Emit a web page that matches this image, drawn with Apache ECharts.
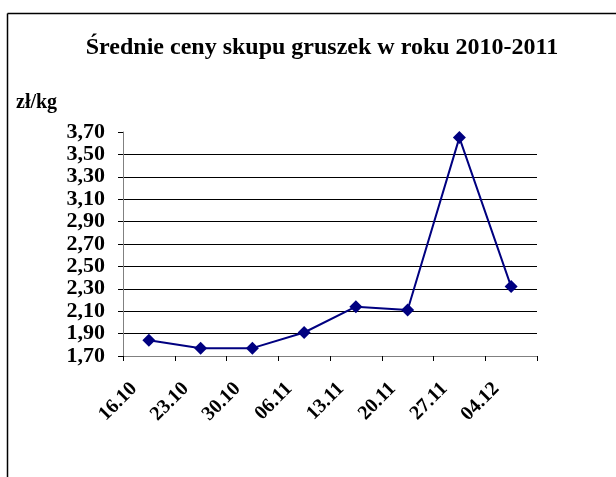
<!DOCTYPE html>
<html><head><meta charset="utf-8">
<script src="https://cdn.jsdelivr.net/npm/echarts@6/dist/echarts.min.js"></script>
<style>html,body{margin:0;padding:0;background:#fff}#c{width:616px;height:477px}</style>
</head><body><div id="c"></div>
<script>
var titleText = 'Średnie ceny skupu gruszek w roku 2010-2011';
var unitLabel = 'zł/kg';
var categories = ['16.10','23.10','30.10','06.11','13.11','20.11','27.11','04.12'];
var prices = [1.84, 1.77, 1.77, 1.91, 2.14, 2.11, 3.65, 2.32];
var yMin = 1.7, yMax = 3.7, yStep = 0.2;

var font = 'Liberation Serif';
var chart = echarts.init(document.getElementById('c'), null, {renderer:'canvas'});
var gridColors = ['rgba(0,0,0,0)','#000','#000','#000','#000','#000','#000','#000','#000','#000','rgba(0,0,0,0)'];
chart.setOption({
  animation:false,
  backgroundColor:'#fff',
  title:[
    {text:titleText, left:317, top:31, textAlign:'center',
     textStyle:{fontFamily:font, fontWeight:'bold', fontSize:24, color:'#000'}},
    {text:unitLabel, left:11, top:88,
     textStyle:{fontFamily:font, fontWeight:'bold', fontSize:20, color:'#000'}}
  ],
  graphic:[
    {type:'line', shape:{x1:7.5,y1:13.5,x2:616,y2:13.5}, style:{stroke:'#000',lineWidth:1.5}},
    {type:'line', shape:{x1:7.5,y1:13.5,x2:7.5,y2:477}, style:{stroke:'#000',lineWidth:1.5}}
  ],
  grid:{left:123, right:79, top:132, bottom:121, containLabel:false},
  xAxis:{
    type:'category', data:categories, boundaryGap:true,
    axisLine:{lineStyle:{color:'#808080', width:1}},
    axisTick:{show:true, alignWithLabel:false, length:5, lineStyle:{color:'#000'}},
    axisLabel:{rotate:45, margin:15, padding:[0,21,0,0], interval:0,
      fontFamily:font, fontWeight:'bold', fontSize:20, color:'#000'}
  },
  yAxis:{
    type:'value', min:yMin, max:yMax, interval:yStep,
    axisLine:{show:true, lineStyle:{color:'#808080', width:1}},
    axisTick:{show:true, length:5, lineStyle:{color:'#000'}},
    splitLine:{show:true, lineStyle:{color:gridColors, width:1}},
    axisLabel:{margin:18, fontFamily:font, fontWeight:'bold', fontSize:22, color:'#000',
      formatter:function(v){return v.toFixed(2).replace('.',',');}}
  },
  series:[{
    type:'line', data:prices, symbol:'diamond', symbolSize:13,
    lineStyle:{color:'#000080', width:2}, itemStyle:{color:'#000080'}
  }]
});
</script></body></html>
